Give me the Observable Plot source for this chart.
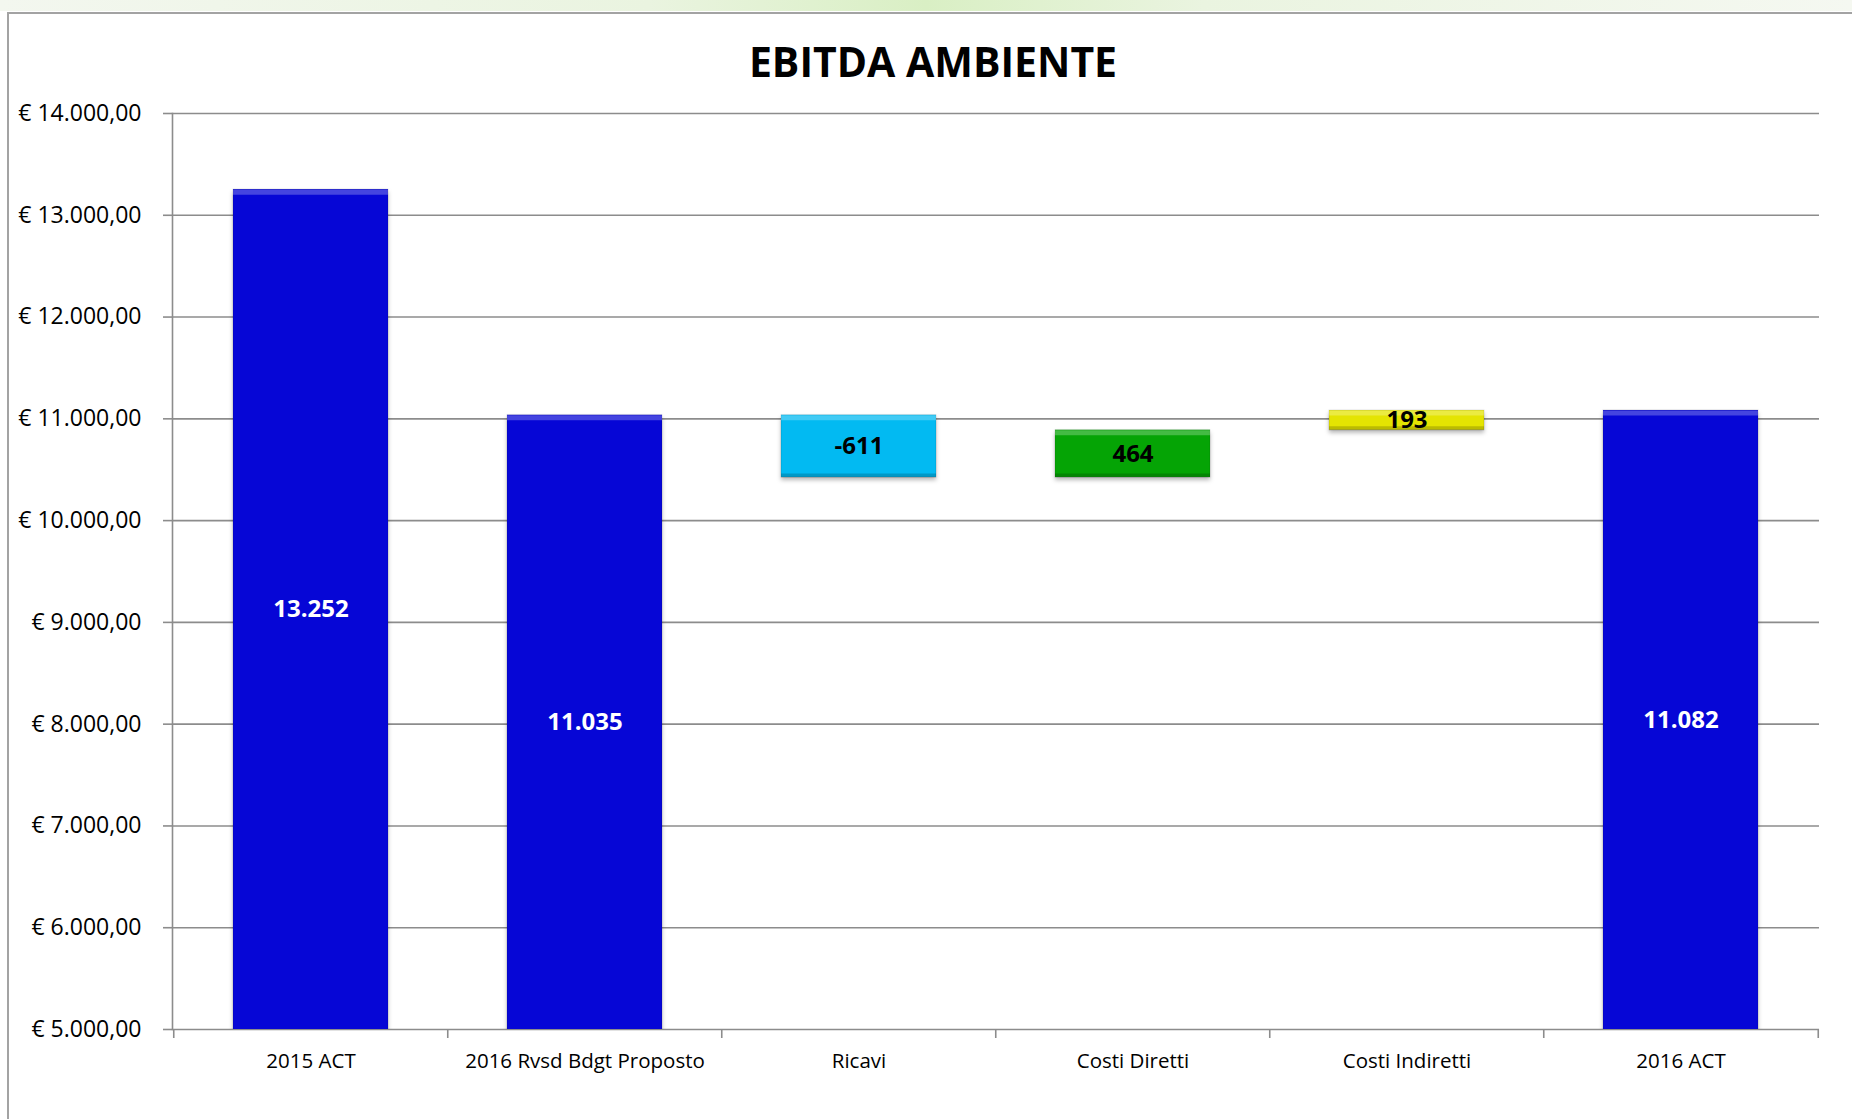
<!DOCTYPE html>
<html>
<head>
<meta charset="utf-8">
<script src="https://cdn.jsdelivr.net/npm/d3@7"></script>
<script src="https://cdn.jsdelivr.net/npm/@observablehq/plot@0.6"></script>
<style>
  html, body { margin: 0; padding: 0; background: #fff; }
  body { width: 1852px; height: 1119px; overflow: hidden; position: relative; font-family: "Open Sans", sans-serif; }
  #strip { position: absolute; left: 0; top: 0; width: 1852px; height: 11px;
    background: linear-gradient(to right, #f3f7ef 0%, #eaf4e0 35%, #d9efc4 50%, #eaf4e0 65%, #f5f8f1 100%); }
  #frame { position: absolute; left: 7px; top: 12px; width: 1900px; height: 1200px; border: 2px solid #a3a3a3; box-sizing: border-box; }
  #title { position: absolute; left: 633px; width: 600px; top: 40px; text-align: center; font-weight: bold; font-size: 41px; line-height: 42px; color: #000; }
  #chart { position: absolute; left: 0; top: 0; }
  #chart g[aria-label="bar"] rect { filter: drop-shadow(0px 3px 2px rgba(0,0,0,0.28)); }
</style>
</head>
<body>
<div id="strip"></div>
<div id="frame"></div>
<div id="title">EBITDA AMBIENTE</div>
<div id="chart"></div>
<script>
// ---- data ----
const categories = ["2015 ACT", "2016 Rvsd Bdgt Proposto", "Ricavi", "Costi Diretti", "Costi Indiretti", "2016 ACT"];
const values = [13252, 11035, -611, 464, 193, 11082];
const kinds = ["total", "total", "delta", "delta", "delta", "total"];
const yTicks = [5000, 6000, 7000, 8000, 9000, 10000, 11000, 12000, 13000, 14000];
const yDomain = [5000, 14000];

// ---- styles ----
const palette = ["#0606d6", "#0606d6", "#02baf2", "#05a405", "#e4e402", "#0606d6"];

// ---- build waterfall rows ----
let running = 0;
const rows = categories.map((cat, i) => {
  const v = values[i];
  let y1, y2;
  if (kinds[i] === "total") { y1 = 0; y2 = v; running = v; }
  else { y1 = running; y2 = running + v; running = y2; }
  const lo = Math.max(Math.min(y1, y2), yDomain[0]);
  const hi = Math.max(y1, y2);
  return { cat, value: v, kind: kinds[i], y1, y2, lo, hi, mid: (lo + hi) / 2 };
});

const it = d3.formatLocale({ decimal: ",", thousands: ".", grouping: [3], currency: ["€ ", ""], minus: "-" });
const fmtTick = it.format("$,.2f");
const fmtVal = it.format(",d");

const W = 1852, H = 1119;
const mL = 172, mR = 33, mT = 113, mB = 90;
const step = (W - mL - mR) / categories.length;
const font = '"Open Sans", sans-serif';

const plot = Plot.plot({
  width: W,
  height: H,
  marginLeft: mL,
  marginRight: mR,
  marginTop: mT,
  marginBottom: mB,
  style: { fontFamily: font, background: "transparent", color: "#000", overflow: "visible" },
  x: { domain: categories, paddingInner: 0.435, paddingOuter: 0.2175, label: null },
  y: { domain: yDomain, label: null },
  color: { domain: categories, range: palette },
  marks: [
    Plot.gridY(yTicks, { stroke: "#8c8c8c", strokeOpacity: 1, strokeWidth: 1.6 }),
    Plot.axisY({ ticks: yTicks, tickFormat: fmtTick, tickSize: 9, tickPadding: 22, fontSize: 23, stroke: "#8c8c8c", strokeWidth: 1.6, label: null }),
    Plot.frame({ anchor: "left", stroke: "#8c8c8c", strokeWidth: 1.6 }),
    Plot.axisX({ tickSize: 0, tickPadding: 24, fontSize: 20.5, label: null }),
    // category boundary ticks on the x axis
    Plot.ruleX(categories, { x: d => d, dx: -step / 2, y1: yDomain[0], y2: yDomain[0], insetTop: 9, stroke: "#8c8c8c", strokeWidth: 1.6 }),
    Plot.ruleX(categories.slice(-1), { x: d => d, dx: step / 2, y1: yDomain[0], y2: yDomain[0], insetTop: 9, stroke: "#8c8c8c", strokeWidth: 1.6 }),
    Plot.barY(rows, { x: "cat", y1: "y1", y2: "y2", fill: "cat", stroke: "#000", strokeOpacity: 0.12, clip: true }),
    // bevel highlights
    Plot.tickY(rows, { x: "cat", y: "hi", stroke: "#fff", strokeOpacity: 0.25, strokeWidth: 5, dy: 2.5 }),
    Plot.tickY(rows.filter(d => d.kind === "delta"), { x: "cat", y: "lo", stroke: "#000", strokeOpacity: 0.18, strokeWidth: 4, dy: -2 }),
    Plot.text(rows.filter(d => d.kind === "total"), { x: "cat", y: "mid", text: d => fmtVal(d.value), fill: "#fff", fontSize: 24, fontWeight: "bold" }),
    Plot.text(rows.filter(d => d.kind === "delta"), { x: "cat", y: "mid", text: d => fmtVal(d.value), fill: "#000", fontSize: 24, fontWeight: "bold" })
  ]
});
document.getElementById("chart").appendChild(plot);
</script>
</body>
</html>
